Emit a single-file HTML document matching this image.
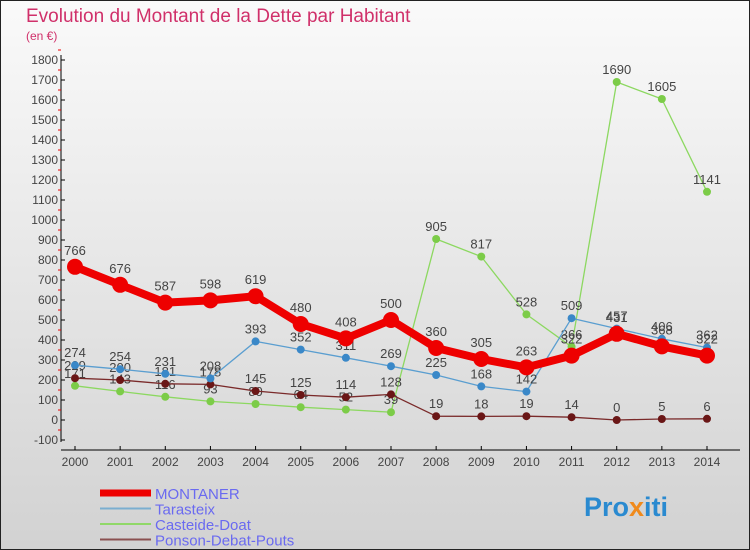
<!DOCTYPE html>
<html><head><meta charset="utf-8"><style>
body{margin:0}
svg{display:block;font-family:"Liberation Sans",sans-serif}
</style></head><body>
<svg id="c" width="750" height="550">
<defs><linearGradient id="bg" x1="0" y1="0" x2="0" y2="1"><stop offset="0" stop-color="#fafafa"/><stop offset="1" stop-color="#d2d2d2"/></linearGradient></defs>
<rect x="0.5" y="0.5" width="749" height="549" fill="url(#bg)" stroke="#222"/>
<text x="26" y="22" font-size="19" fill="#d0306a">Evolution du Montant de la Dette par Habitant</text>
<text x="26" y="40" font-size="12" fill="#d0306a">(en €)</text>
<g id="axes"></g><g id="series"></g><g id="legend"></g>
<text x="584" y="516" font-size="27" font-weight="bold" fill="#2a8ad0">Pro<tspan fill="#f08a1c">x</tspan>iti</text>
</svg>
<script>
const years=[2000,2001,2002,2003,2004,2005,2006,2007,2008,2009,2010,2011,2012,2013,2014];
const montaner=[766,676,587,598,619,480,408,500,360,305,263,322,431,368,322];
const tarasteix=[274,254,231,208,393,352,311,269,225,168,142,509,457,406,362];
const casteide=[171,143,116,93,80,64,52,39,905,817,528,366,1690,1605,1141];
const ponson=[209,200,181,178,145,125,114,128,19,18,19,14,0,5,6];
const yTicks=[-100,0,100,200,300,400,500,600,700,800,900,1000,1100,1200,1300,1400,1500,1600,1700,1800];
const NS="http://www.w3.org/2000/svg";
const X=i=>75+i*(707-75)/(years.length-1);
const Y=v=>420-v*0.2;
function mk(t,a,p){const e=document.createElementNS(NS,t);for(const k in a)e.setAttribute(k,a[k]);p.appendChild(e);return e;}
const ax=document.getElementById('axes');
const yl=mk('line',{x1:61,y1:55,x2:61,y2:442,stroke:'#000'},ax);


yTicks.forEach(v=>{
  mk('line',{x1:61,x2:65,y1:Y(v),y2:Y(v),stroke:'#000'},ax);
  mk('line',{x1:58,x2:61,y1:Y(v)-10,y2:Y(v)-10,stroke:'#e00'},ax);
  const t=mk('text',{x:58,y:Y(v)+4,'font-size':12,'text-anchor':'end',fill:'#444'},ax);t.textContent=v;
  
  
});
const xl=mk('line',{x1:61,y1:450,x2:740,y2:450,stroke:'#000'},ax);


years.forEach((y,i)=>{
  mk('line',{x1:X(i),x2:X(i),y1:446,y2:450,stroke:'#000'},ax);
  const t=mk('text',{x:X(i),y:466,'font-size':12,'text-anchor':'middle',fill:'#444'},ax);t.textContent=y;
  
  
});
const sg=document.getElementById('series');
function series(d,col,w,r,name,dot){
  const g=mk('g',{},sg);
  
  
  mk('polyline',{points:d.map((v,i)=>X(i)+','+Y(v)).join(' '),fill:'none',stroke:col,'stroke-width':w,'stroke-linejoin':'round'},g);
  d.forEach((v,i)=>{
    const c=mk('circle',{cx:X(i),cy:Y(v),r:r,fill:dot||col},g);
    
    
    const t=mk('text',{x:X(i),y:Y(v)-r-4,'font-size':13,'text-anchor':'middle',fill:'#444'},g);t.textContent=v;
    
    
  });
}
series(casteide,'#8cd860',1.3,4,'casteide-doat','#7ccc48');
series(ponson,'#7a2a2a',1.3,4,'ponson-debat-pouts','#6a1616');
series(tarasteix,'#5a9ed0',1.3,4,'tarasteix','#3a88c8');
series(montaner,'#e00',8,8,'montaner');
const lg=document.getElementById('legend');
[['MONTANER','#e00',7],['Tarasteix','#7aaed0',2],['Casteide-Doat','#90d868',2],['Ponson-Debat-Pouts','#8a5050',2]].forEach((e,i)=>{
  const yy=493+i*15.5;
  const g=mk('g',{},lg);
  
  
  mk('line',{x1:100,x2:151,y1:yy,y2:yy,stroke:e[1],'stroke-width':e[2]},g);
  const t=mk('text',{x:155,y:yy+6,'font-size':15,fill:'#6a6af0'},g);t.textContent=e[0];
});
</script>
</body></html>
